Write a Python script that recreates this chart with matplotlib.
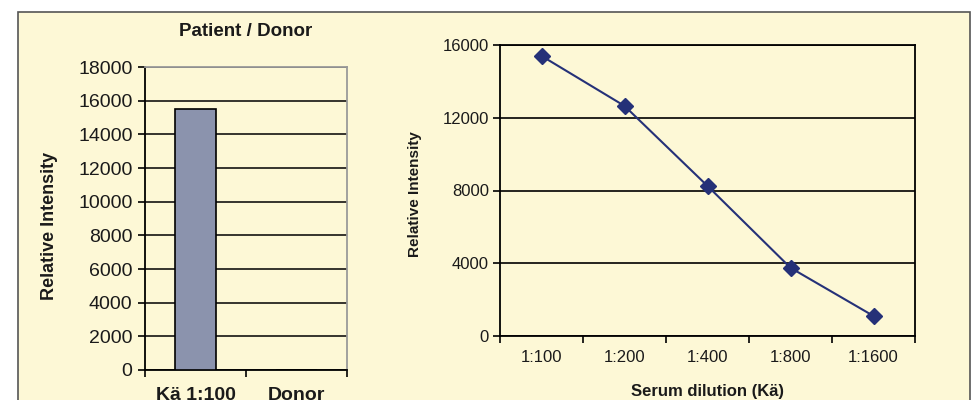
import matplotlib
matplotlib.use('Agg')
import matplotlib.pyplot as plt
from matplotlib.patches import Rectangle

# 데이터
bar_labels = ['Kä 1:100', 'Donor']
bar_values = [15500, 0]

dilutions = ['1:100', '1:200', '1:400', '1:800', '1:1600']
intensity = [15400, 12650, 8250, 3750, 1100]

# 폰트
plt.rcParams['font.family'] = ['Liberation Sans', 'DejaVu Sans']

PANEL = '#fdf8d6'
BAR = '#8b93ad'
NAVY = '#253178'
TXT = '#1a1a1a'

fig = plt.figure(figsize=(9.72, 4.0), dpi=100)
fig.patch.set_facecolor('white')

# 노란 배경 패널
W, H = 972, 400
fig.patches.append(Rectangle((18 / W, -0.05), (970 - 18) / W, (400 - 12) / H + 0.05,
                             transform=fig.transFigure, facecolor=PANEL,
                             edgecolor='#555555', linewidth=1.2, zorder=-10))

# 왼쪽: Patient / Donor 막대
ax1 = fig.add_axes([145 / W, (H - 370) / H, (347 - 145) / W, (370 - 67) / H])
ax1.set_facecolor(PANEL)
x1 = range(len(bar_labels))
ax1.bar(x1, bar_values, width=0.4, color=BAR, edgecolor='black', linewidth=1.2, zorder=3)
ax1.set_xlim(-0.5, len(bar_labels) - 0.5)
ax1.set_ylim(0, 18000)
ax1.set_yticks(range(0, 18001, 2000))
ax1.set_yticklabels([str(v) for v in range(0, 18001, 2000)], fontsize=14, color=TXT)
ax1.grid(axis='y', color='black', linewidth=1.1, zorder=1)
ax1.set_axisbelow(True)
ax1.set_xticks([-0.5, 0.5, 1.5])
ax1.set_xticklabels([])
ax1.set_xticks(list(x1), minor=True)
ax1.set_xticklabels(bar_labels, minor=True, fontsize=14, fontweight='bold', color=TXT)
ax1.tick_params(axis='x', which='minor', length=0, pad=12)
ax1.tick_params(axis='x', which='major', length=5, width=1.2, direction='out')
ax1.tick_params(axis='y', length=5, width=1.2, pad=4)
for s in ['left', 'bottom']:
    ax1.spines[s].set_color('black')
    ax1.spines[s].set_linewidth(1.3)
for s in ['top', 'right']:
    ax1.spines[s].set_color('#9a9a9a')
    ax1.spines[s].set_linewidth(1.3)
ax1.set_title('Patient / Donor', fontsize=13.5, fontweight='bold', color=TXT, pad=22)
fig.text(49 / W, 1 - 226 / H, 'Relative Intensity', rotation=90, ha='center', va='center',
         fontsize=13, fontweight='bold', color=TXT)

# 오른쪽: 희석 곡선
ax2 = fig.add_axes([500 / W, (H - 336) / H, (915 - 500) / W, 291 / H])
ax2.set_facecolor(PANEL)
x2 = range(len(dilutions))
ax2.plot(x2, intensity, color=NAVY, linewidth=1.5, marker='D', markersize=8,
         markerfacecolor=NAVY, markeredgecolor=NAVY, zorder=3)
ax2.set_xlim(-0.5, len(dilutions) - 0.5)
ax2.set_ylim(0, 16000)
ax2.set_yticks(range(0, 16001, 4000))
ax2.set_yticklabels([str(v) for v in range(0, 16001, 4000)], fontsize=12, color=TXT)
ax2.grid(axis='y', color='black', linewidth=1.2, zorder=1)
ax2.set_axisbelow(True)
ax2.set_xticks([i - 0.5 for i in range(len(dilutions) + 1)])
ax2.set_xticklabels([])
ax2.set_xticks(list(x2), minor=True)
ax2.set_xticklabels(dilutions, minor=True, fontsize=12, color=TXT)
ax2.tick_params(axis='x', which='minor', length=0, pad=10)
ax2.tick_params(axis='x', which='major', length=5, width=1.2, direction='out')
ax2.tick_params(axis='y', length=5, width=1.2, pad=3)
for s in ax2.spines.values():
    s.set_color('black')
    s.set_linewidth(1.3)
ax2.set_xlabel('Serum dilution (Kä)', fontsize=12, fontweight='bold', color=TXT, labelpad=14)
fig.text(415 / W, 1 - 194 / H, 'Relative Intensity', rotation=90, ha='center', va='center',
         fontsize=11, fontweight='bold', color=TXT)

fig.savefig('out.png', dpi=100, facecolor='white')
